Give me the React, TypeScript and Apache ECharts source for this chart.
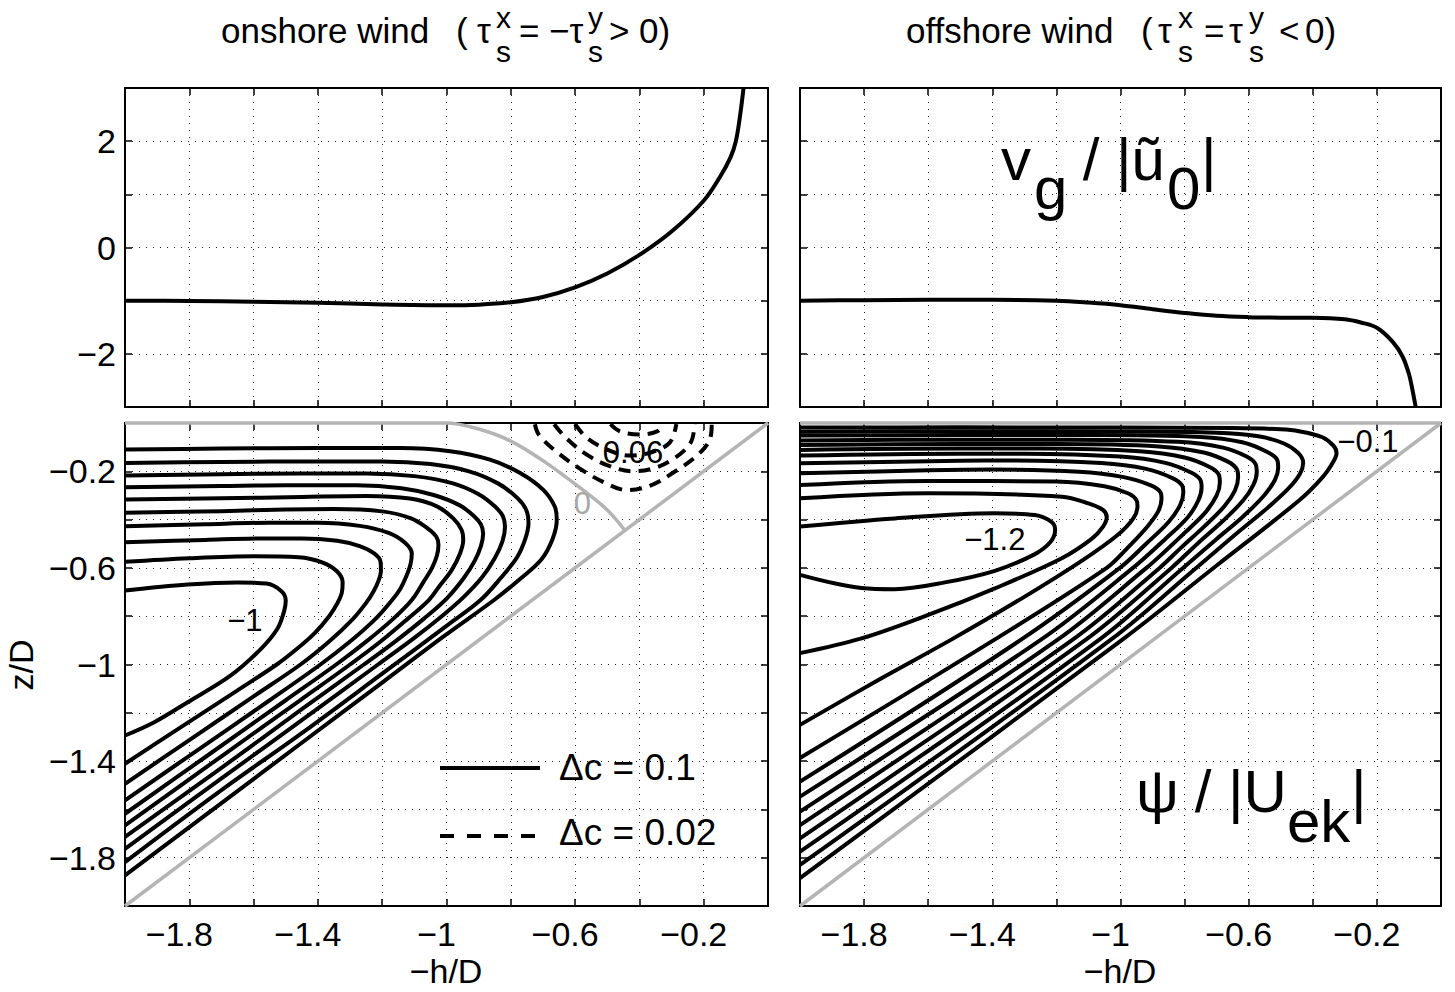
import React, { useEffect, useRef } from "react";
import * as echarts from "echarts";

const FONT = '"Liberation Sans", Arial, Helvetica, sans-serif';

// ---------- axis tick labels ----------
const xTickLabels = [-1.8, -1.4, -1, -0.6, -0.2];
const vgTickLabels = [2, 0, -2];
const zTickLabels = [-1.8, -1.4, -1, -0.6, -0.2];

// ---------- top panels: v_g / |u0| ----------
const vgOnshore: number[][] = [
  [-2, -1.0], [-1.8, -1.005], [-1.6, -1.02], [-1.4, -1.04], [-1.2, -1.07], [-1.0, -1.085],
  [-0.9, -1.075], [-0.8, -1.03], [-0.7, -0.93], [-0.6, -0.75], [-0.5, -0.49], [-0.4, -0.14],
  [-0.3, 0.3], [-0.2, 0.88], [-0.15, 1.32], [-0.117, 1.69], [-0.1, 2.0], [-0.088, 2.43], [-0.076, 3.0],
];
const vgOffshore: number[][] = [
  [-2, -1.0], [-1.8, -0.99], [-1.6, -0.985], [-1.4, -0.985], [-1.2, -1.0], [-1.1, -1.035],
  [-1.0, -1.085], [-0.9, -1.16], [-0.8, -1.23], [-0.7, -1.285], [-0.6, -1.31], [-0.5, -1.32],
  [-0.4, -1.322], [-0.3, -1.35], [-0.25, -1.41], [-0.2, -1.51], [-0.15, -1.78], [-0.12, -2.05],
  [-0.1, -2.38], [-0.09, -2.65], [-0.079, -3.0],
];

// ---------- bottom-left: psi contours, onshore wind (solid, dc = 0.1) ----------
const onM01 = [[-2, -0.110], [-1.7, -0.106], [-1.4, -0.104], [-1.145, -0.104], [-0.989, -0.117], [-0.865, -0.152], [-0.771, -0.207], [-0.699, -0.277], [-0.663, -0.347], [-0.657, -0.402], [-0.670, -0.480], [-0.705, -0.565], [-0.775, -0.650], [-0.852, -0.733], [-1.010, -0.885], [-1.2, -1.075], [-1.45, -1.324], [-1.7, -1.574], [-2, -1.873]];
const onM02 = [[-2, -0.166], [-1.7, -0.161], [-1.4, -0.159], [-1.20, -0.159], [-1.05, -0.170], [-0.93, -0.200], [-0.84, -0.250], [-0.78, -0.310], [-0.752, -0.360], [-0.745, -0.415], [-0.755, -0.480], [-0.780, -0.555], [-0.830, -0.640], [-0.894, -0.733], [-1.0, -0.840], [-1.2, -1.038], [-1.45, -1.284], [-1.7, -1.520], [-2, -1.818]];
const onM03 = [[-2, -0.217], [-1.7, -0.212], [-1.45, -0.209], [-1.25, -0.209], [-1.10, -0.220], [-0.98, -0.250], [-0.90, -0.295], [-0.850, -0.345], [-0.825, -0.385], [-0.818, -0.430], [-0.826, -0.490], [-0.850, -0.560], [-0.890, -0.640], [-0.946, -0.720], [-1.01, -0.795], [-1.1, -0.890], [-1.213, -1.0], [-1.45, -1.230], [-1.7, -1.472], [-2, -1.763]];
const onM04 = [[-2, -0.266], [-1.7, -0.261], [-1.5, -0.258], [-1.28, -0.258], [-1.14, -0.270], [-1.04, -0.298], [-0.96, -0.340], [-0.915, -0.385], [-0.893, -0.420], [-0.886, -0.458], [-0.893, -0.510], [-0.912, -0.570], [-0.945, -0.640], [-0.998, -0.725], [-1.07, -0.810], [-1.16, -0.905], [-1.257, -1.0], [-1.45, -1.185], [-1.7, -1.428], [-2, -1.714]];
const onM05 = [[-2, -0.317], [-1.7, -0.312], [-1.45, -0.306], [-1.25, -0.302], [-1.114, -0.313], [-1.030, -0.345], [-0.979, -0.395], [-0.953, -0.443], [-0.948, -0.484], [-0.958, -0.540], [-0.984, -0.609], [-1.020, -0.672], [-1.055, -0.733], [-1.12, -0.810], [-1.205, -0.905], [-1.300, -1.0], [-1.45, -1.143], [-1.7, -1.380], [-2, -1.666]];
const onM06 = [[-2, -0.372], [-1.7, -0.365], [-1.5, -0.358], [-1.35, -0.356], [-1.20, -0.366], [-1.11, -0.395], [-1.06, -0.435], [-1.032, -0.470], [-1.025, -0.505], [-1.030, -0.550], [-1.045, -0.600], [-1.070, -0.655], [-1.108, -0.733], [-1.165, -0.810], [-1.245, -0.900], [-1.343, -1.0], [-1.5, -1.148], [-1.75, -1.383], [-2, -1.618]];
const onM07 = [[-2, -0.428], [-1.75, -0.419], [-1.55, -0.413], [-1.40, -0.413], [-1.27, -0.426], [-1.18, -0.455], [-1.13, -0.495], [-1.108, -0.540], [-1.112, -0.585], [-1.125, -0.635], [-1.143, -0.685], [-1.169, -0.733], [-1.22, -0.810], [-1.30, -0.905], [-1.392, -1.0], [-1.55, -1.148], [-1.8, -1.378], [-2, -1.563]];
const onM08 = [[-2, -0.494], [-1.75, -0.484], [-1.55, -0.478], [-1.45, -0.478], [-1.34, -0.488], [-1.27, -0.510], [-1.225, -0.540], [-1.205, -0.575], [-1.204, -0.612], [-1.212, -0.655], [-1.228, -0.700], [-1.250, -0.745], [-1.29, -0.810], [-1.365, -0.905], [-1.454, -1.0], [-1.6, -1.132], [-1.8, -1.313], [-2, -1.494]];
const onM09 = [[-2, -0.575], [-1.8, -0.560], [-1.6, -0.552], [-1.46, -0.556], [-1.385, -0.578], [-1.340, -0.615], [-1.323, -0.660], [-1.326, -0.705], [-1.339, -0.745], [-1.365, -0.800], [-1.41, -0.870], [-1.465, -0.935], [-1.528, -1.0], [-1.65, -1.107], [-1.82, -1.254], [-2, -1.411]];
const onM10 = [[-2, -0.694], [-1.805, -0.669], [-1.65, -0.660], [-1.56, -0.665], [-1.515, -0.695], [-1.500, -0.735], [-1.505, -0.779], [-1.526, -0.852], [-1.577, -0.935], [-1.671, -1.045], [-1.805, -1.156], [-1.909, -1.239], [-2, -1.294]];
const onSolid = [onM01, onM02, onM03, onM04, onM05, onM06, onM07, onM08, onM09, onM10];

// dashed, dc = 0.02 (positive cell near the surface)
const onP02 = [[-0.725, -0.005], [-0.712, -0.050], [-0.656, -0.121], [-0.584, -0.190], [-0.511, -0.245], [-0.439, -0.278], [-0.366, -0.259], [-0.293, -0.204], [-0.221, -0.135], [-0.180, -0.065], [-0.175, -0.005]];
const onP04 = [[-0.665, -0.005], [-0.630, -0.060], [-0.565, -0.130], [-0.490, -0.180], [-0.420, -0.200], [-0.350, -0.185], [-0.285, -0.140], [-0.240, -0.080], [-0.228, -0.005]];
const onP06 = [[-0.600, -0.005], [-0.565, -0.060], [-0.500, -0.110], [-0.430, -0.135], [-0.360, -0.120], [-0.305, -0.080], [-0.285, -0.005]];
const onP08 = [[-0.49, -0.005], [-0.46, -0.035], [-0.40, -0.048], [-0.345, -0.035], [-0.325, -0.005]];
const onDashed = [onP02, onP04, onP06, onP08];

// grey zero contour, shelf (bottom) and sea surface
const onZero = [[-2, 0], [-1.0, 0], [-0.9, -0.025], [-0.8, -0.075], [-0.69, -0.165], [-0.585, -0.268], [-0.50, -0.360], [-0.445, -0.445]];
const shelf = [[-2, -2], [0, 0]];
const surface = [[-2, 0], [0, 0]];

// ---------- bottom-right: psi contours, offshore wind ----------
const offM01 = [[-2, -0.019], [-1.5, -0.018], [-1.0, -0.019], [-0.65, -0.021], [-0.50, -0.026], [-0.443, -0.034], [-0.370, -0.059], [-0.335, -0.095], [-0.326, -0.125], [-0.336, -0.160], [-0.370, -0.225], [-0.443, -0.321], [-0.70, -0.59], [-0.994, -0.897], [-2, -1.885]];
const offM02 = [[-2, -0.036], [-1.5, -0.034], [-1.0, -0.035], [-0.70, -0.040], [-0.57, -0.055], [-0.49, -0.085], [-0.445, -0.125], [-0.430, -0.165], [-0.440, -0.210], [-0.475, -0.270], [-0.54, -0.350], [-0.64, -0.460], [-0.764, -0.600], [-1.030, -0.897], [-2, -1.830]];
const offM03 = [[-2, -0.052], [-1.5, -0.050], [-1.1, -0.050], [-0.75, -0.058], [-0.62, -0.080], [-0.545, -0.118], [-0.512, -0.150], [-0.508, -0.185], [-0.518, -0.235], [-0.552, -0.300], [-0.620, -0.390], [-0.700, -0.480], [-0.805, -0.600], [-1.066, -0.897], [-2, -1.775]];
const offM04 = [[-2, -0.072], [-1.5, -0.069], [-1.15, -0.069], [-0.82, -0.078], [-0.68, -0.102], [-0.605, -0.140], [-0.578, -0.172], [-0.575, -0.205], [-0.585, -0.255], [-0.617, -0.320], [-0.680, -0.405], [-0.760, -0.500], [-0.841, -0.600], [-1.108, -0.897], [-2, -1.720]];
const offM05 = [[-2, -0.091], [-1.5, -0.087], [-1.2, -0.087], [-0.88, -0.097], [-0.74, -0.122], [-0.665, -0.160], [-0.637, -0.192], [-0.633, -0.225], [-0.643, -0.280], [-0.676, -0.345], [-0.740, -0.430], [-0.810, -0.515], [-0.878, -0.600], [-1.149, -0.897], [-2, -1.665]];
const offM06 = [[-2, -0.112], [-1.5, -0.106], [-1.25, -0.106], [-0.94, -0.117], [-0.80, -0.143], [-0.722, -0.182], [-0.694, -0.212], [-0.690, -0.246], [-0.700, -0.300], [-0.735, -0.370], [-0.800, -0.455], [-0.860, -0.530], [-0.919, -0.600], [-1.196, -0.897], [-2, -1.609]];
const offM07 = [[-2, -0.135], [-1.5, -0.127], [-1.3, -0.127], [-1.00, -0.139], [-0.86, -0.165], [-0.780, -0.205], [-0.751, -0.235], [-0.747, -0.267], [-0.757, -0.320], [-0.790, -0.390], [-0.860, -0.480], [-0.961, -0.600], [-1.248, -0.897], [-2, -1.547]];
const offM08 = [[-2, -0.167], [-1.5, -0.156], [-1.35, -0.155], [-1.06, -0.166], [-0.92, -0.190], [-0.838, -0.228], [-0.808, -0.258], [-0.804, -0.288], [-0.814, -0.340], [-0.850, -0.410], [-0.920, -0.500], [-1.002, -0.600], [-1.310, -0.897], [-2, -1.485]];
const offM09 = [[-2, -0.208], [-1.6, -0.196], [-1.4, -0.193], [-1.13, -0.202], [-0.99, -0.224], [-0.905, -0.258], [-0.876, -0.285], [-0.872, -0.313], [-0.882, -0.365], [-0.920, -0.435], [-0.980, -0.520], [-1.043, -0.600], [-1.393, -0.897], [-2, -1.387]];
const offM10 = [[-2, -0.257], [-1.6, -0.240], [-1.2, -0.242], [-1.05, -0.262], [-0.975, -0.292], [-0.950, -0.320], [-0.947, -0.345], [-0.960, -0.395], [-1.010, -0.465], [-1.120, -0.570], [-1.300, -0.720], [-1.528, -0.897], [-1.750, -1.060], [-2, -1.250]];
const offM11 = [[-2, -0.312], [-1.6, -0.291], [-1.183, -0.305], [-1.100, -0.333], [-1.055, -0.360], [-1.043, -0.390], [-1.055, -0.430], [-1.090, -0.480], [-1.183, -0.560], [-1.392, -0.685], [-1.600, -0.795], [-1.808, -0.892], [-2, -0.953]];
const offM12 = [[-2, -0.429], [-1.704, -0.395], [-1.392, -0.374], [-1.267, -0.381], [-1.215, -0.410], [-1.204, -0.443], [-1.220, -0.495], [-1.270, -0.545], [-1.392, -0.612], [-1.548, -0.660], [-1.704, -0.688], [-1.808, -0.683], [-2, -0.629]];
const offSolid = [offM01, offM02, offM03, offM04, offM05, offM06, offM07, offM08, offM09, offM10, offM11, offM12];

// contour labels [x, y, text]
const onLabels: [number, number, string][] = [[-1.627, -0.816, "\u22121"], [-0.42, -0.122, "0.06"]];
const onZeroLabel: [number, number, string][] = [[-0.577, -0.332, "0"]];
const offLabels: [number, number, string][] = [[-1.392, -0.484, "\u22121.2"], [-0.228, -0.075, "\u22120.1"]];

// ---------- helpers ----------
const fmt = (v: number) => {
  const r = Math.round(v * 10) / 10;
  return r < 0 ? "\u2212" + String(Math.abs(r)) : String(r);
};
const pick = (list: number[]) => (v: number) =>
  list.some((t) => Math.abs(t - v) < 1e-6) ? fmt(v) : "";

const AXLINE = { show: true, onZero: false, lineStyle: { color: "#000", width: 2 } };
const AXTICK = { show: true, inside: true, length: 7, lineStyle: { color: "#000", width: 1.5 } };
const GRIDLINE = { show: true, lineStyle: { type: [1, 6] as any, color: "#222", width: 1 } };
const LABEL = { fontSize: 34, color: "#000", fontFamily: FONT };

function xAxesFor(gridIndex: number, showLabels: boolean) {
  return [
    {
      type: "value", gridIndex, position: "bottom", min: -2, max: 0, interval: 0.2,
      axisLine: AXLINE, axisTick: AXTICK, splitLine: GRIDLINE,
      axisLabel: { show: showLabels, formatter: pick(xTickLabels), margin: 11, padding: [0, 20, 0, 0], ...LABEL },
    },
    {
      type: "value", gridIndex, position: "top", min: -2, max: 0, interval: 0.2,
      axisLine: AXLINE, axisTick: AXTICK, splitLine: { show: false }, axisLabel: { show: false },
    },
  ];
}
function yAxesFor(gridIndex: number, min: number, max: number, interval: number, labels: number[], showLabels: boolean) {
  return [
    {
      type: "value", gridIndex, position: "left", min, max, interval,
      axisLine: AXLINE, axisTick: AXTICK, splitLine: GRIDLINE,
      axisLabel: { show: showLabels, formatter: pick(labels), margin: 9, ...LABEL },
    },
    {
      type: "value", gridIndex, position: "right", min, max, interval,
      axisLine: AXLINE, axisTick: AXTICK, splitLine: { show: false }, axisLabel: { show: false },
    },
  ];
}

function lineSeries(data: number[][], axis: number, style: any, clip = false, z = 3) {
  return {
    type: "line", xAxisIndex: axis * 2, yAxisIndex: axis * 2, data, symbol: "none", showSymbol: false,
    smooth: 0.35, clip, silent: true, z, animation: false,
    lineStyle: { color: "#000", width: 4, cap: "butt", join: "round", ...style },
  };
}
function labelSeries(labels: [number, number, string][], axis: number, color: string) {
  return {
    type: "scatter", xAxisIndex: axis * 2, yAxisIndex: axis * 2, symbolSize: 0, silent: true, z: 5,
    itemStyle: { color: "#000", opacity: 0 },
    data: labels.map(([x, y, t]) => ({ value: [x, y], name: t })),
    label: {
      show: true, position: "inside", formatter: (p: any) => p.name, fontSize: 31, color,
      fontFamily: FONT, textBorderWidth: 0, opacity: 1,
    },
  };
}

function txt(x: number, y: number, text: string, fontSize: number, extra: any = {}) {
  const { style, ...rest } = extra;
  return {
    type: "text", x, y, silent: true, ...rest,
    style: { text, fontSize, fontFamily: FONT, fill: "#000", align: "left", verticalAlign: "middle", ...(style || {}) },
  };
}

export default function App() {
  const ref = useRef<HTMLDivElement>(null);
  useEffect(() => {
    document.body.style.margin = "0";
    if (!ref.current) return;
    const chart = echarts.init(ref.current, undefined, { renderer: "svg" });

    const GREY = "#b4b4b4";
    const series: any[] = [
      lineSeries(vgOnshore, 0, {}, true),
      lineSeries(vgOffshore, 1, {}, true),
      lineSeries(shelf, 2, { color: GREY, width: 3.5 }, false, 2),
      lineSeries(onZero, 2, { color: GREY, width: 3.5 }, false, 2),
      ...onSolid.map((d) => lineSeries(d, 2, {})),
      ...onDashed.map((d) => lineSeries(d, 2, { type: [12, 8] })),
      labelSeries(onLabels, 2, "#000"),
      labelSeries(onZeroLabel, 2, "#a8a8a8"),
      lineSeries(shelf, 3, { color: GREY, width: 3.5 }, false, 2),
      lineSeries(surface, 3, { color: GREY, width: 3.5 }, false, 2),
      ...offSolid.map((d) => lineSeries(d, 3, {})),
      labelSeries(offLabels, 3, "#000"),
    ];

    const TF = 35;
    const SF = 30;
    const main = 30, sup = 17, sub = 51;
    const graphic: any[] = [
      // left title
      txt(221, main, "onshore wind", TF), txt(456, main, "(", TF), txt(477, main, "\u03C4", TF),
      txt(496, sup, "x", SF), txt(496, sub, "s", SF), txt(519, main, "=", TF),
      txt(549, main, "\u2212\u03C4", TF), txt(588, sup, "y", SF), txt(588, sub, "s", SF),
      txt(609, main, ">", TF), txt(639, main, "0)", TF),
      // right title
      txt(906, main, "offshore wind", TF), txt(1141, main, "(", TF), txt(1158, main, "\u03C4", TF),
      txt(1178, sup, "x", SF), txt(1178, sub, "s", SF), txt(1204, main, "=", TF),
      txt(1229, main, "\u03C4", TF), txt(1249, sup, "y", SF), txt(1249, sub, "s", SF),
      txt(1279, main, "<", TF), txt(1305, main, "0)", TF),
      // v_g / |u0|
      txt(1001, 159, "v", 60), txt(1034, 188, "g", 60), txt(1066, 159, "\u00A0/\u00A0|\u0169", 60),
      txt(1167, 188, "0", 60), txt(1201, 159, "|", 60),
      // psi / |U_ek|
      txt(1136, 791, "\u03C8", 60), txt(1178, 791, "\u00A0/\u00A0|U", 60), txt(1287, 821, "ek", 60),
      txt(1351, 791, "|", 60),
      // axis names
      txt(446, 971, "\u2212h/D", 34, { style: { align: "center" } }),
      txt(1120, 971, "\u2212h/D", 34, { style: { align: "center" } }),
      txt(21, 665, "z/D", 34, { rotation: Math.PI / 2, style: { align: "center" } }),
      // legend
      { type: "line", silent: true, shape: { x1: 440, y1: 768, x2: 540, y2: 768 }, style: { stroke: "#000", lineWidth: 4 } },
      { type: "line", silent: true, shape: { x1: 440, y1: 836, x2: 536, y2: 836 }, style: { stroke: "#000", lineWidth: 4, lineDash: [14, 13] } },
      txt(559, 767, "\u0394c = 0.1", 37),
      txt(559, 832, "\u0394c = 0.02", 37),
    ];

    chart.setOption({
      animation: false,
      backgroundColor: "#fff",
      grid: [
        { left: 125, top: 88, width: 643, height: 319, containLabel: false, outerBoundsMode: "none" },
        { left: 800, top: 88, width: 641, height: 319, containLabel: false, outerBoundsMode: "none" },
        { left: 125, top: 423, width: 643, height: 483, containLabel: false, outerBoundsMode: "none" },
        { left: 800, top: 423, width: 641, height: 483, containLabel: false, outerBoundsMode: "none" },
      ],
      xAxis: [...xAxesFor(0, false), ...xAxesFor(1, false), ...xAxesFor(2, true), ...xAxesFor(3, true)],
      yAxis: [
        ...yAxesFor(0, -3, 3, 1, vgTickLabels, true),
        ...yAxesFor(1, -3, 3, 1, vgTickLabels, false),
        ...yAxesFor(2, -2, 0, 0.2, zTickLabels, true),
        ...yAxesFor(3, -2, 0, 0.2, zTickLabels, false),
      ],
      series,
      graphic,
    } as any);

    return () => chart.dispose();
  }, []);
  return <div ref={ref} style={{ width: 1455, height: 992 }} />;
}
